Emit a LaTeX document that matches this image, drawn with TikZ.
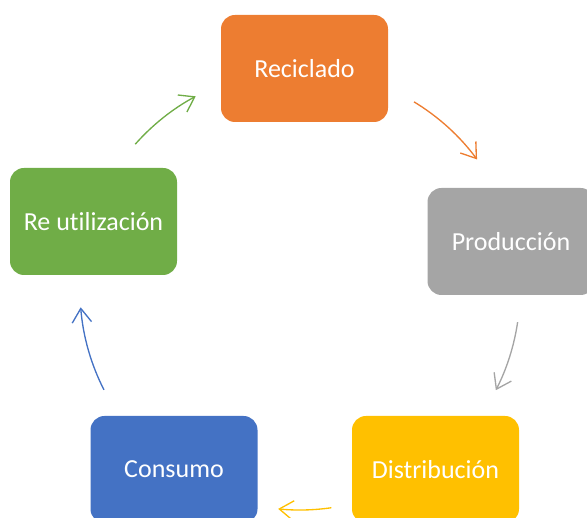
\documentclass[tikz,border=0pt]{standalone}
\usepackage{fontspec}
\setmainfont{Carlito}[Ligatures={NoCommon}]
\usetikzlibrary{arrows.meta}
\definecolor{cOrange}{HTML}{ED7D31}
\definecolor{cGray}{HTML}{A5A5A5}
\definecolor{cGold}{HTML}{FFC000}
\definecolor{cBlue}{HTML}{4472C4}
\definecolor{cGreen}{HTML}{70AD47}
\begin{document}
\begin{tikzpicture}[x=0.75pt,y=0.75pt,
  box/.style={rounded corners=10.5pt, draw=none, minimum width=125.25pt, minimum height=80.25pt,
    inner sep=0pt, text=white, font=\fontsize{19.5pt}{23pt}\selectfont},
  cyc/.style={line width=1pt, -{Straight Barb[length=10.5pt,width=14.5pt]}}]
\useasboundingbox (0,0) rectangle (587,518);
\clip (0,0) rectangle (587,518);
\node[box, fill=cOrange] (rec) at (304.5,449.5) {Reciclado};
\node[box, fill=cGray]   (pro) at (511,276.5) {Producción};
\node[box, fill=cGold]   (dis) at (435.5,48.5) {Distribución};
\node[box, fill=cBlue]   (con) at (174,48.5) {Consumo};
\node[box, fill=cGreen]  (reu) at (93.5,296.5) {Re utilización};
\coordinate (cc) at (300,228);
\draw[cyc, cOrange] ([shift={(58.8:165pt)}]cc) arc[start angle=58.8, end angle=36.4, radius=165pt];
\draw[cyc, cGray] ([shift={(-8.4:165pt)}]cc) arc[start angle=-8.4, end angle=-27.1, radius=165pt];
\draw[cyc, cGold] ([shift={(-81.8:165pt)}]cc) arc[start angle=-81.8, end angle=-95.7, radius=165pt];
\draw[cyc, cBlue] ([shift={(-153:165pt)}]cc) arc[start angle=-153, end angle=-175.5, radius=165pt];
\draw[cyc, cGreen] ([shift={(138.5:165pt)}]cc) arc[start angle=138.5, end angle=118.3, radius=165pt];
\end{tikzpicture}
\end{document}
